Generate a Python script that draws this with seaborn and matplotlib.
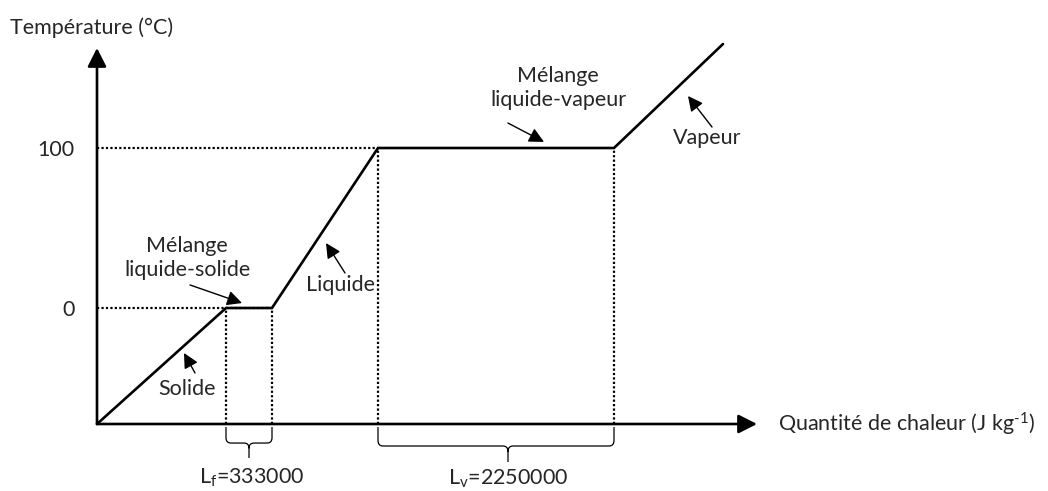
import numpy as np
import pandas as pd
import matplotlib
matplotlib.use("Agg")
import matplotlib.pyplot as plt
from matplotlib.path import Path
from matplotlib.patches import PathPatch
import seaborn as sns

# ---- data (schematic heat axis units, temperature in °C) ----
heat_points = [0, 129, 175, 281, 517, 626]
temp_points = [-72.5, 0, 0, 100, 100, 165]
temp_ticks = [0, 100]
temp_tick_labels = ["0", "100"]
phase_labels = ["Solide", "Mélange\nliquide-solide", "Liquide", "Mélange\nliquide-vapeur", "Vapeur"]
latent_labels = [r"L$_\mathregular{f}$=333000", r"L$_\mathregular{v}$=2250000"]

sns.set_style("white")
FONT = "Lato"
plt.rcParams["font.family"] = [FONT, "DejaVu Sans"]
plt.rcParams["mathtext.fontset"] = "custom"
plt.rcParams["mathtext.rm"] = FONT
plt.rcParams["mathtext.it"] = FONT
FS = 15.5

fig = plt.figure(figsize=(10.48, 4.91), dpi=100)
ax = fig.add_axes([97 / 1048, (491 - 424) / 491, 660 / 1048, 376 / 491])
ax.set_xlim(0, 660)
ax.set_ylim(-72.5, 162.5)

df = pd.DataFrame({"q": heat_points, "T": temp_points})
sns.lineplot(data=df, x="q", y="T", ax=ax, color="black", lw=1.9, sort=False,
             estimator=None, clip_on=False, solid_joinstyle="miter")

dot = dict(color="black", lw=1.6, linestyle=(0, (1, 1)), clip_on=False)
# horizontal guides
ax.plot([0, heat_points[2]], [temp_points[1]] * 2, **dot, zorder=1)
ax.plot([0, heat_points[3]], [temp_points[3]] * 2, **dot, zorder=1)
# vertical guides
for i in range(1, 5):
    ax.plot([heat_points[i]] * 2, [-72.5, temp_points[i]], **dot, zorder=1)

for s in ax.spines.values():
    s.set_visible(False)
ax.set_xticks([])
ax.set_yticks(temp_ticks)
ax.set_yticklabels(temp_tick_labels, fontsize=FS)
ax.tick_params(axis="y", length=0, pad=16)
ax.set_xlabel("")
ax.set_ylabel("")

axarrow = dict(arrowstyle="-|>,head_length=0.75,head_width=0.38", lw=1.9, color="black",
               mutation_scale=15, shrinkA=0, shrinkB=0)
ax.annotate("", xy=(0, 1), xytext=(0, 0), xycoords="axes fraction", arrowprops=axarrow)
ax.annotate("", xy=(1, 0), xytext=(0, 0), xycoords="axes fraction", arrowprops=axarrow)

fig.text(10 / 1048, 1 - 28 / 491, "Température (°C)", fontsize=FS, va="center", ha="left")
fig.text(778 / 1048, 1 - 424 / 491, r"Quantité de chaleur (J kg$^{\text{-1}}$)",
         fontsize=FS, va="center", ha="left")

small = dict(arrowstyle="-|>,head_length=0.6,head_width=0.3", lw=1.0, color="black",
             mutation_scale=15, shrinkA=0, shrinkB=0)
# (label, text pos, arrow tail, arrow tip)
annots = [
    (phase_labels[0], (90, -50.6), (98, -40.6), (87, -28.1)),
    (phase_labels[1], (90, 31.2), (93, 14.4), (145, 3.1)),
    (phase_labels[2], (243, 14.4), (248, 21.9), (229, 40.6)),
    (phase_labels[3], (461, 137.5), (411, 115.6), (447, 103.8)),
    (phase_labels[4], (610, 106.3), (615, 113.1), (591, 132.5)),
]
for lab, tp, tail, tip in annots:
    ax.text(*tp, lab, ha="center", va="center", fontsize=FS, linespacing=1.3)
    ax.annotate("", xy=tip, xytext=tail, arrowprops=small, annotation_clip=False)


def brace(x0, x1, top, mid, tipy, xm):
    r = 5.0
    ry = (mid - tipy) * 0.35
    verts = [(x0, top), (x0, mid + ry), (x0, mid), (x0 + r, mid),
             (xm - r, mid), (xm, mid), (xm, mid - ry), (xm, tipy),
             (xm, mid - ry), (xm, mid), (xm + r, mid),
             (x1 - r, mid), (x1, mid), (x1, mid + ry), (x1, top)]
    codes = [Path.MOVETO, Path.LINETO, Path.CURVE3, Path.CURVE3,
             Path.LINETO, Path.CURVE3, Path.CURVE3, Path.LINETO,
             Path.MOVETO, Path.CURVE3, Path.CURVE3,
             Path.LINETO, Path.CURVE3, Path.CURVE3, Path.LINETO]
    ax.add_patch(PathPatch(Path(verts, codes), fill=False, lw=0.9, color="black", clip_on=False))


brace(heat_points[1], heat_points[2], -74.4, -84.4, -93.75, (heat_points[1] + heat_points[2]) / 2)
brace(heat_points[3], heat_points[4], -74.4, -86.25, -96.25, 411)
ax.text((heat_points[1] + heat_points[2]) / 2 + 3, -106.0, latent_labels[0], ha="center", va="center", fontsize=FS)
ax.text(411, -106.5, latent_labels[1], ha="center", va="center", fontsize=FS)

fig.savefig("out.png", dpi=100)
